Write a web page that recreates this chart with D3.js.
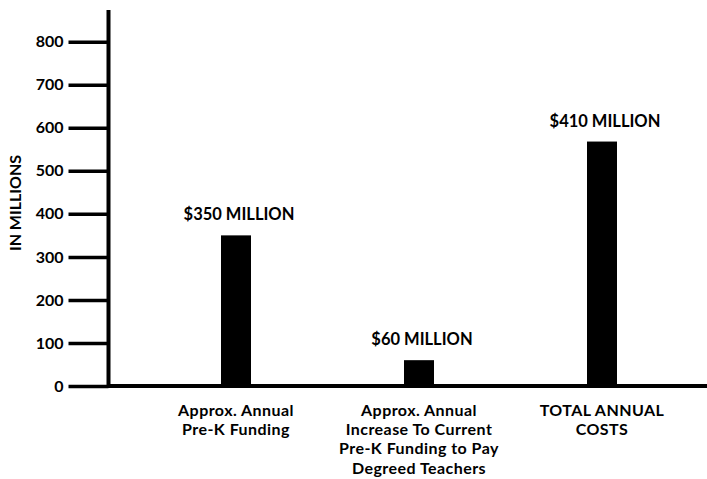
<!DOCTYPE html>
<html>
<head>
<meta charset="utf-8">
<style>
    body { margin: 0; background: #fff; }
    text { font-family: Lato, "Open Sans", sans-serif; font-weight: bold; fill: #000; }
</style>
</head>
<body>
<svg width="707" height="479"></svg>
<script src="https://d3js.org/d3.v7.min.js"></script>
<script>
    var categories = ["preK", "increase", "total"];
    var values = [350, 60, 568];
    var valueLabels = ["$350 MILLION", "$60 MILLION", "$410 MILLION"];
    var categoryLabels = [
        ["Approx. Annual", "Pre-K Funding"],
        ["Approx. Annual", "Increase To Current", "Pre-K Funding to Pay", "Degreed Teachers"],
        ["TOTAL ANNUAL", "COSTS"]
    ];
    var yTicks = [0, 100, 200, 300, 400, 500, 600, 700, 800];

    var svg = d3.select("svg"),
        width = +svg.attr("width"),
        height = +svg.attr("height");

    var axisX = 108.5,
        zeroY = 386,
        barWidth = 30;

    var y = d3.scaleLinear()
        .domain([0, 800])
        .range([zeroY, 41.7]);

    var x = d3.scalePoint()
        .domain(categories)
        .range([236, 602]);

    // y axis: ticks + labels
    var yAxis = d3.axisLeft(y)
        .tickValues(yTicks)
        .tickSize(40)
        .tickPadding(5)
        .tickFormat(d3.format("d"));

    var gy = svg.append("g")
        .attr("transform", "translate(" + axisX + ",0)")
        .call(yAxis);
    gy.select(".domain").remove();
    gy.selectAll(".tick line")
        .attr("stroke", "#000")
        .attr("stroke-width", 3.5);
    gy.selectAll(".tick text")
        .attr("font-size", 16)
        .attr("font-family", "Lato, Open Sans, sans-serif")
        .attr("font-weight", "bold")
        .attr("fill", "#000");

    // main axis lines
    svg.append("line")
        .attr("x1", axisX).attr("x2", axisX)
        .attr("y1", 10).attr("y2", zeroY + 2)
        .attr("stroke", "#000")
        .attr("stroke-width", 4);
    svg.append("line")
        .attr("x1", axisX).attr("x2", width)
        .attr("y1", zeroY).attr("y2", zeroY)
        .attr("stroke", "#000")
        .attr("stroke-width", 4);

    svg.append("text")
        .attr("transform", "translate(21,203) rotate(-90)")
        .attr("text-anchor", "middle")
        .attr("font-size", 16)
        .text("IN MILLIONS");

    var data = categories.map(function(c, i) {
        return { key: c, value: values[i], label: valueLabels[i], lines: categoryLabels[i] };
    });

    svg.selectAll("rect.bar")
        .data(data)
        .enter().append("rect")
        .attr("class", "bar")
        .attr("x", function(d) { return x(d.key) - barWidth / 2; })
        .attr("y", function(d) { return y(d.value); })
        .attr("width", barWidth)
        .attr("height", function(d) { return zeroY - y(d.value); })
        .attr("fill", "#000");

    svg.selectAll("text.value")
        .data(data)
        .enter().append("text")
        .attr("class", "value")
        .attr("x", function(d) { return x(d.key) + 3; })
        .attr("y", function(d) { return y(d.value) - 15; })
        .attr("text-anchor", "middle")
        .attr("font-size", 16.5)
        .text(function(d) { return d.label; });

    var cat = svg.selectAll("text.cat")
        .data(data)
        .enter().append("text")
        .attr("class", "cat")
        .attr("text-anchor", "middle")
        .attr("font-size", 16)
        .attr("letter-spacing", 0.45);
    cat.selectAll("tspan")
        .data(function(d) { return d.lines.map(function(l) { return { key: d.key, text: l }; }); })
        .enter().append("tspan")
        .attr("x", function(d) { return x(d.key); })
        .attr("y", function(d, i) { return 416 + i * 19.2; })
        .text(function(d) { return d.text; });
</script>
</body>
</html>
